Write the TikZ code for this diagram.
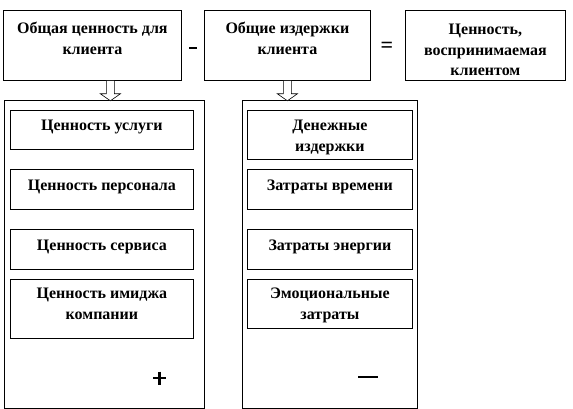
\documentclass[tikz,border=0pt]{standalone}
\usepackage{fontspec}
\setmainfont{Liberation Serif}
\usetikzlibrary{positioning,calc}

\tikzset{
  box/.style={draw, line width=0.8pt, anchor=north west, inner sep=0pt},
  boxtext/.style={align=center, inner sep=0pt, font=\bfseries\fontsize{16}{20.5}\selectfont},
  hollow/.style={draw, line width=0.6pt, fill=white},
  signs/.style={inner sep=0pt, font=\bfseries\fontsize{22}{22}\selectfont},
}

\begin{document}
\begin{tikzpicture}[x=1pt, y=-1pt]
    \useasboundingbox (0,0) rectangle (573,409);

    % top row
    \node[box, minimum width=178pt, minimum height=70pt] (tot) at (3,10) {};
    \node[box, minimum width=166pt, minimum height=70pt] (cost) at (204,10) {};
    \node[box, minimum width=160pt, minimum height=70pt] (perc) at (405,10) {};

    \node[boxtext, below=12pt of tot.north] (totT) {Общая ценность для\\клиента};
    \node[boxtext, below=12pt of cost.north] (costT) {Общие издержки\\клиента};
    \node[boxtext, below=14pt of perc.north] (percT) {Ценность,\\воспринимаемая\\клиентом};

    \draw[line width=2pt] (189,48) -- (197,48);
    \node[signs] (equal) at (387,47) {=};

    % columns
    \node[box, minimum width=200pt, minimum height=308pt] (valcol) at (4,100) {};
    \node[box, minimum width=175pt, minimum height=308pt] (costcol) at (242,100) {};

    % hollow arrows
    \draw[hollow] ($(tot.south)+(14,0)$) -- ++(0,13) -- ++(-6,0) -- ++(10,7)
        -- ++(10,-7) -- ++(-6,0) -- ++(0,-13);
    \draw[hollow] ($(cost.south)+(-4,0)$) -- ++(0,13) -- ++(-6,0) -- ++(10,7)
        -- ++(10,-7) -- ++(-6,0) -- ++(0,-13);

    % value items
    \node[box, minimum width=183pt, minimum height=39pt] (v1) at (10,110) {};
    \node[box, minimum width=183pt, minimum height=40pt] (v2) at (10,169) {};
    \node[box, minimum width=183pt, minimum height=40pt] (v3) at (10,229) {};
    \node[box, minimum width=183pt, minimum height=59pt] (v4) at (10,279) {};

    \node[boxtext, below=10pt of v1.north] (v1T) {Ценность услуги};
    \node[boxtext, below=11pt of v2.north] (v2T) {Ценность персонала};
    \node[boxtext, below=11pt of v3.north] (v3T) {Ценность сервиса};
    \node[boxtext, below=9pt of v4.north] (v4T) {Ценность имиджа\\компании};

    % cost items
    \node[box, minimum width=165pt, minimum height=49pt] (c1) at (247,110) {};
    \node[box, minimum width=165pt, minimum height=40pt] (c2) at (247,169) {};
    \node[box, minimum width=165pt, minimum height=40pt] (c3) at (247,229) {};
    \node[box, minimum width=165pt, minimum height=49pt] (c4) at (247,279) {};

    \node[boxtext, below=10pt of c1.north] (c1T) {Денежные\\издержки};
    \node[boxtext, below=11pt of c2.north] (c2T) {Затраты времени};
    \node[boxtext, below=11pt of c3.north] (c3T) {Затраты энергии};
    \node[boxtext, below=9pt of c4.north] (c4T) {Эмоциональные\\затраты};

    % signs
    \draw[line width=2.2pt] (153,378) -- (166,378) (159.5,371.5) -- (159.5,384.5);
    \draw[line width=2.2pt] (358,377) -- (378,377);
\end{tikzpicture}
\end{document}
